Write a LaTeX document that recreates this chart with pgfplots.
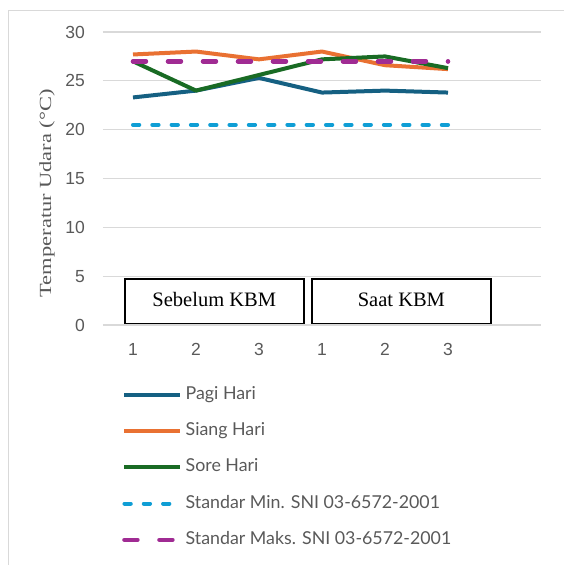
\documentclass[border=0pt]{standalone}
\usepackage{fontspec}
\setmainfont{Liberation Sans}
\newfontfamily\serifx{Liberation Serif}
\newfontfamily\legfont{Lato}
\usepackage{graphicx}
\usepackage{pgfplots}
\pgfplotsset{compat=1.18}
\definecolor{cPagi}{HTML}{156082}
\definecolor{cSiang}{HTML}{E97132}
\definecolor{cSore}{HTML}{196B24}
\definecolor{cMin}{HTML}{0F9ED5}
\definecolor{cMaks}{HTML}{A02B93}
\definecolor{txtgray}{HTML}{595959}
\definecolor{gridgray}{HTML}{D9D9D9}
\begin{document}
\begin{tikzpicture}
\begin{axis}[
  at={(103pt,-325pt)}, anchor=south west,
  scale only axis, width=438pt, height=293pt,
  xmin=0.524, xmax=7.476, ymin=0, ymax=30,
  axis line style={draw=none},
  ytick={0,5,...,30},
  xtick={1,...,6}, xticklabels={1,2,3,1,2,3},
  major tick length=0pt,
  ymajorgrids, grid style={gridgray, line width=1.3pt},
  /pgf/number format/assume math mode=true,
  tick label style={font=\fontsize{17.5}{20}\selectfont, text=txtgray, inner sep=0pt},
  yticklabel style={xshift=-18pt},
  xticklabel style={yshift=-18pt},
  ylabel={\scalebox{1.32}[1]{\serifx\fontsize{17}{20}\selectfont Temperatur Udara (°C)}},
  ylabel style={at={(axis description cs:-0.128,0.45)}, anchor=center, rotate=0, text=txtgray},
  legend style={at={(axis description cs:0.0434,-0.208)}, anchor=north west, draw=none, fill=none,
    font=\legfont\fontsize{17.8}{20}\selectfont, text=txtgray, inner sep=0pt,
    row sep=19.3pt, nodes={inner sep=0pt, text height=13pt, text depth=4pt}},
  legend cell align=left,
  legend image code/.code={\draw[#1] (0pt,0pt) -- (56pt,0pt);},
  every axis plot/.append style={line join=round},
  clip=false,
]
\addplot[cPagi, line width=4pt] coordinates {(1,23.3) (2,24.0) (3,25.3) (4,23.8) (5,24.0) (6,23.8)};
\addlegendentry{\,Pagi Hari}
\addplot[cSiang, line width=4pt] coordinates {(1,27.7) (2,28.0) (3,27.2) (4,28.0) (5,26.6) (6,26.2)};
\addlegendentry{\,Siang Hari}
\addplot[cSore, line width=4pt] coordinates {(1,27.0) (2,24.0) (3,25.6) (4,27.2) (5,27.5) (6,26.3)};
\addlegendentry{\,Sore Hari}
\addplot[cMin, line width=4pt, line cap=round, dash pattern=on 6.3pt off 13pt] coordinates {(1,20.5) (2,20.5) (3,20.5) (4,20.5) (5,20.5) (6,20.5)};
\addlegendentry{\,Standar Min. SNI 03-6572-2001}
\addplot[cMaks, line width=4.5pt, line cap=round, dash pattern=on 13pt off 22pt] coordinates {(1,27.0) (2,27.0) (3,27.0) (4,27.0) (5,27.0) (6,27.0)};
\addlegendentry{\,Standar Maks. SNI 03-6572-2001}
\draw[black, line width=1.2pt, fill=white] (axis cs:0.873,0.15) rectangle (axis cs:3.714,4.71);
\draw[black, line width=1.2pt, fill=white] (axis cs:3.841,0.15) rectangle (axis cs:6.683,4.71);
\node[anchor=base, font=\serifx\fontsize{20.5}{24}\selectfont] at (axis cs:2.29,1.94) {Sebelum KBM};
\node[anchor=base, font=\serifx\fontsize{20.5}{24}\selectfont] at (axis cs:5.26,1.94) {Saat KBM};
\end{axis}
\draw[gridgray, line width=1pt] (8pt,-10pt) rectangle (640pt,-640pt);
\pgfresetboundingbox
\path[use as bounding box] (0pt,0pt) rectangle (563pt,-565pt);
\end{tikzpicture}
\end{document}
